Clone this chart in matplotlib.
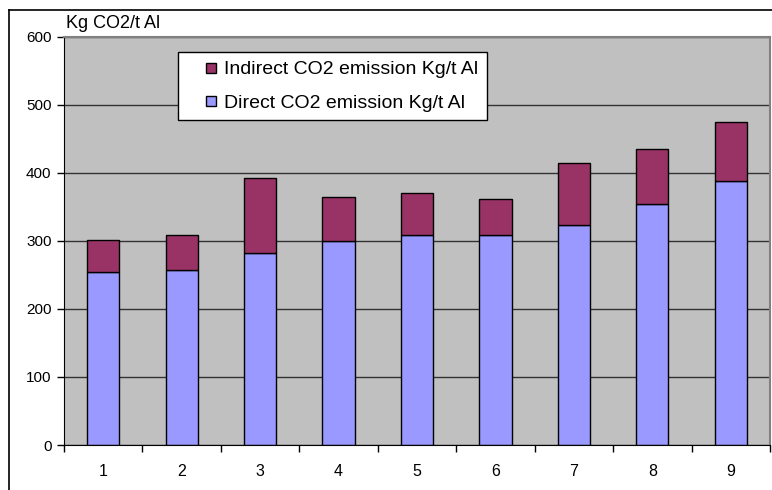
import matplotlib
matplotlib.use("Agg")
import matplotlib.pyplot as plt
from matplotlib.lines import Line2D
import numpy as np

categories = ["1", "2", "3", "4", "5", "6", "7", "8", "9"]
direct = [254, 258, 283, 300, 309, 309, 324, 354, 388]
total = [302, 309, 392, 364, 370, 362, 415, 436, 475]
indirect = [t - d for t, d in zip(total, direct)]
yticks = [0, 100, 200, 300, 400, 500, 600]

DIRECT_C = "#9999FF"
INDIRECT_C = "#993366"
PLOT_BG = "#C0C0C0"

plt.rcParams["font.family"] = ["Liberation Sans", "DejaVu Sans"]

fig = plt.figure(figsize=(7.72, 4.90), dpi=100)
fig.patch.set_facecolor("white")
ax = fig.add_axes([64 / 772, 45 / 490, 706 / 772, 408 / 490])
ax.set_facecolor(PLOT_BG)

x = np.arange(len(categories))
ax.set_axisbelow(True)
ax.yaxis.grid(True, color="#333333", lw=1.0)
ax.bar(x, direct, width=0.41, color=DIRECT_C, edgecolor="black", lw=1.0)
ax.bar(x, indirect, bottom=direct, width=0.41, color=INDIRECT_C,
       edgecolor="black", lw=1.0)

ax.set_xlim(-0.5, len(categories) - 0.5)
ax.set_ylim(0, 600)
ax.set_yticks(yticks)
ax.set_yticklabels([str(v) for v in yticks], fontsize=11)
ax.set_xticks(x)
ax.set_xticklabels(categories, fontsize=11.5)
ax.set_xticks(np.arange(len(categories) + 1) - 0.5, minor=True)
ax.tick_params(axis="x", which="major", length=0, pad=14)
ax.tick_params(axis="x", which="minor", length=5, width=1.0, direction="out")
ax.tick_params(axis="y", length=5, width=1.0, direction="out", pad=4)

for side in ("top", "right"):
    ax.spines[side].set_color("#808080")
    ax.spines[side].set_linewidth(1.5)
ax.spines["left"].set_color("black")
ax.spines["bottom"].set_color("black")

ax.text(0.003, 1.032, "Kg CO2/t Al", transform=ax.transAxes, fontsize=13,
        ha="left", va="center")

# small square swatches, sitting well inside the legend box
handles = [Line2D([], [], ls="none", marker="s", markersize=6.5, markeredgewidth=1.0,
                  markerfacecolor=c, markeredgecolor="black")
           for c in (INDIRECT_C, DIRECT_C)]
leg = ax.legend(handles, ["Indirect CO2 emission Kg/t Al", "Direct CO2 emission Kg/t Al"],
                loc="upper left", bbox_to_anchor=(114 / 706, 1 - 15 / 408),
                fontsize=14, frameon=True, fancybox=False, handlelength=2.5,
                handletextpad=-0.6, borderpad=0.45, labelspacing=0.8,
                borderaxespad=0)
leg.get_frame().set_edgecolor("black")
leg.get_frame().set_linewidth(1.0)
leg.get_frame().set_facecolor("white")
leg.get_frame().set_alpha(1)

# outer chart frame (left and top edges visible)
fig.add_artist(Line2D([9 / 772, 9 / 772], [0, 1 - 10 / 490], color="black", lw=1.2))
fig.add_artist(Line2D([9 / 772, 1], [1 - 10 / 490, 1 - 10 / 490], color="black", lw=1.2))

fig.savefig("out.png", dpi=100)
